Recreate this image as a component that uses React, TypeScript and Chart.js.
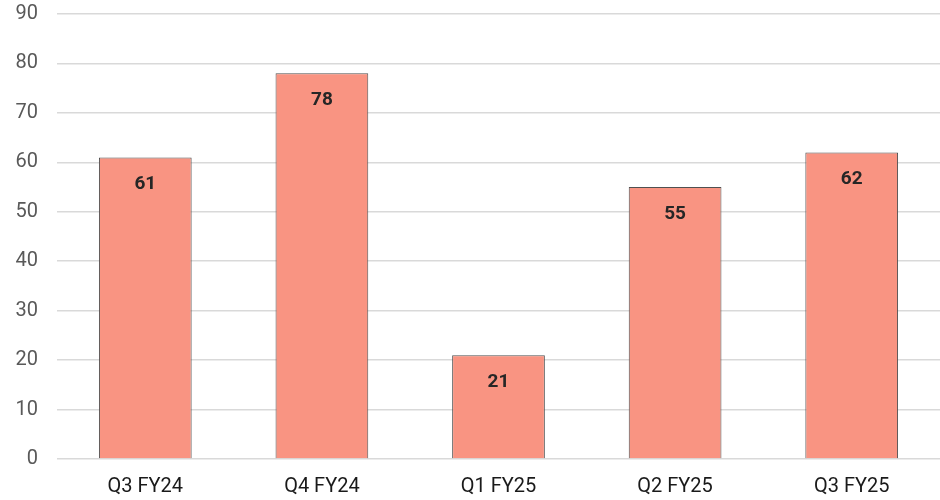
import React, { useEffect, useRef } from "react";
import { Chart, registerables } from "chart.js";

Chart.register(...registerables);

const categories = ["Q3 FY24", "Q4 FY24", "Q1 FY25", "Q2 FY25", "Q3 FY25"];
const values = [61, 78, 21, 55, 62];
const yTicks = [0, 10, 20, 30, 40, 50, 60, 70, 80, 90];

const FONT = "Roboto, 'Noto Sans', sans-serif";

const labelPlugin = {
  id: "barLabels",
  afterDatasetsDraw(chart: any) {
    const ctx = chart.ctx;
    const meta = chart.getDatasetMeta(0);
    ctx.save();
    ctx.font = `bold 19px ${FONT}`;
    ctx.fillStyle = "#262626";
    ctx.textAlign = "center";
    ctx.textBaseline = "middle";
    meta.data.forEach((bar: any, i: number) => {
      ctx.fillText(String(values[i]), bar.x, bar.y + 27);
    });
    ctx.restore();
  },
};

export default function App() {
  const ref = useRef<HTMLCanvasElement>(null);
  useEffect(() => {
    document.body.style.margin = "0";
    const chart = new Chart(ref.current!, {
      type: "bar",
      data: {
        labels: categories,
        datasets: [
          {
            data: values,
            backgroundColor: "#F99482",
            borderColor: "#505050",
            borderWidth: 1,
            categoryPercentage: 1,
            barPercentage: 0.525,
          },
        ],
      },
      options: {
        animation: false,
        responsive: false,
        maintainAspectRatio: false,
        layout: { padding: { top: 14, right: 0, left: 0, bottom: 0 } },
        plugins: { legend: { display: false }, tooltip: { enabled: false } },
        scales: {
          x: {
            grid: { display: false, drawTicks: false },
            border: { display: false },
            ticks: { color: "#1a1a1a", font: { family: FONT, size: 20 }, padding: 16 },
            afterFit(scale: any) {
              scale.height = 41;
              scale.paddingLeft = 0;
              scale.paddingRight = 0;
            },
          },
          y: {
            min: 0,
            max: 90,
            afterBuildTicks(scale: any) {
              scale.ticks = yTicks.map((v) => ({ value: v }));
            },
            grid: { color: "#d9d9d9", lineWidth: 1.5, drawTicks: false },
            border: { display: false },
            ticks: { color: "#595959", font: { family: FONT, size: 20 }, padding: 19 },
            afterFit(scale: any) {
              scale.width = 57;
              scale.paddingTop = 0;
              scale.paddingBottom = 0;
            },
          },
        },
      },
      plugins: [labelPlugin],
    });
    return () => chart.destroy();
  }, []);
  return (
    <div style={{ width: 940, height: 500 }}>
      <canvas ref={ref} width={940} height={500} style={{ display: "block" }} />
    </div>
  );
}
